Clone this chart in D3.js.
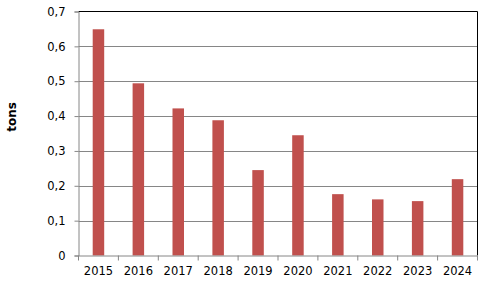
<!DOCTYPE html>
<html><head><meta charset="utf-8">
<script src="https://cdn.jsdelivr.net/npm/d3@7"></script>
<style>body{margin:0;background:#fff}svg{display:block}text{font-family:"DejaVu Sans",Verdana,sans-serif}</style>
</head><body>
<svg id="c" width="490" height="286"></svg>
<script>
const categories = ["2015","2016","2017","2018","2019","2020","2021","2022","2023","2024"];
const values = [0.649, 0.494, 0.422, 0.388, 0.245, 0.345, 0.176, 0.161, 0.156, 0.219];
const yTicks = [0,0.1,0.2,0.3,0.4,0.5,0.6,0.7];
const yLabel = "tons";

const svg = d3.select("#c");
const L=78.5, R=477.5, T=11.5, B=255.5;
const x = d3.scaleBand().domain(categories).range([L,R]).padding(0);
const y = d3.scaleLinear().domain([0,0.7]).range([B,T]);
const fmt = d => d===0 ? "0" : d3.format(".1f")(d).replace(".", ",");
const FS = "11.5px";

// gridlines
svg.append("g").selectAll("line").data(yTicks.filter(d=>d>0 && d<0.7)).join("line")
  .attr("x1",L).attr("x2",R).attr("y1",d=>Math.round(y(d))+0.5).attr("y2",d=>Math.round(y(d))+0.5)
  .attr("stroke","#868686").attr("stroke-width",1);
// plot border top/right
svg.append("path").attr("d",`M${L},${T}H${R}V${B}`).attr("fill","none").attr("stroke","#000");

// bars
const bw = 11.5;
svg.append("g").selectAll("rect").data(values).join("rect")
  .attr("x",(d,i)=>x(categories[i])+x.bandwidth()/2-bw/2)
  .attr("width",bw)
  .attr("y",d=>y(d)).attr("height",d=>B-y(d))
  .attr("fill","#C0504D");

// y axis
const ya = svg.append("g").attr("transform",`translate(${L},0)`)
  .call(d3.axisLeft(y).tickValues(yTicks).tickFormat(fmt).tickSize(4).tickPadding(9));
ya.select(".domain").attr("stroke","#868686");
ya.selectAll(".tick line").attr("stroke","#868686");
ya.selectAll("text").attr("font-size",FS).attr("fill","#000").style("font-family",'"DejaVu Sans",Verdana,sans-serif');

// x axis
const xa = svg.append("g").attr("transform",`translate(0,${B})`)
  .call(d3.axisBottom(x).tickSize(0).tickPadding(11));
xa.select(".domain").attr("stroke","#868686");
xa.selectAll("text").attr("font-size",FS).attr("fill","#000").style("font-family",'"DejaVu Sans",Verdana,sans-serif');
// category boundary ticks
svg.append("g").selectAll("line").data(d3.range(categories.length+1)).join("line")
  .attr("x1",i=>L+i*x.bandwidth()).attr("x2",i=>L+i*x.bandwidth())
  .attr("y1",B).attr("y2",B+5).attr("stroke","#868686");

// y label
svg.append("text").attr("transform","translate(16,117) rotate(-90)")
  .attr("text-anchor","middle").attr("font-size","12px").attr("font-weight","bold")
  .attr("fill","#000").text(yLabel);
</script>
</body></html>
